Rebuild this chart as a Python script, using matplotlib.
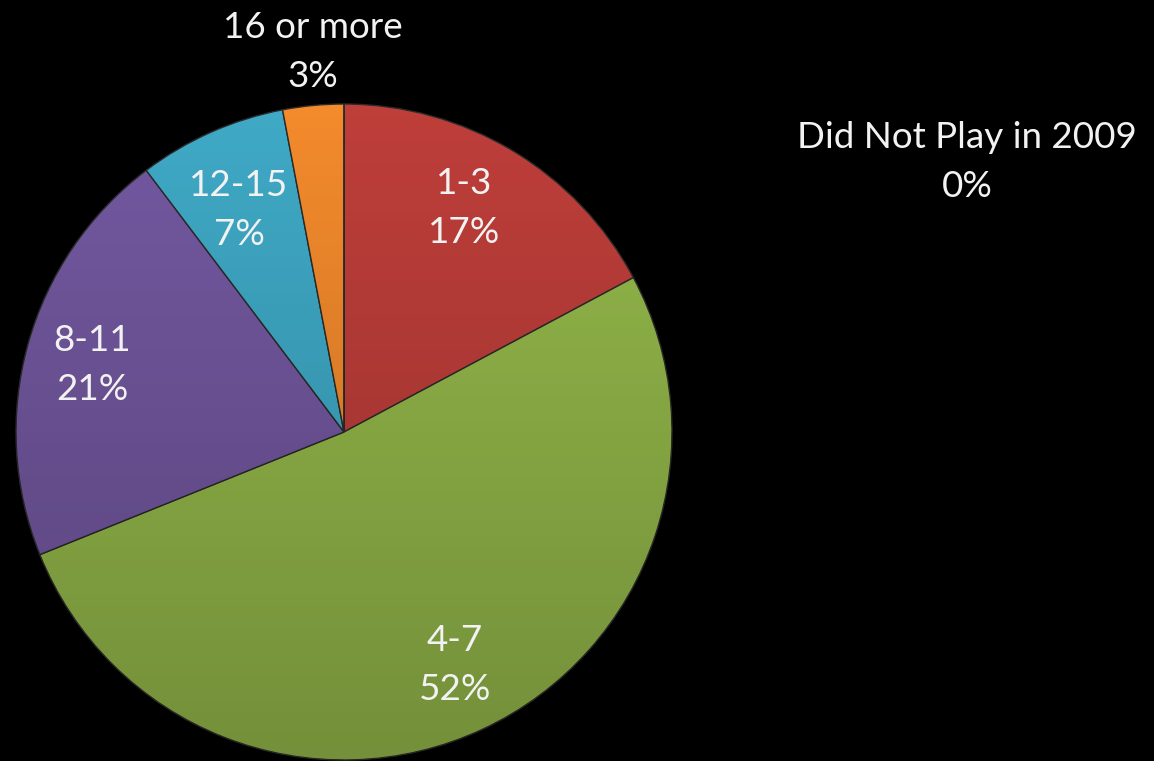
import matplotlib
matplotlib.use("Agg")
import matplotlib.pyplot as plt
import numpy as np
from matplotlib.patches import Circle

categories = ["1-3", "4-7", "8-11", "12-15", "16 or more", "Did Not Play in 2009"]
values = [17.2, 51.7, 20.8, 7.3, 3.0, 0.0]
pct_labels = ["17%", "52%", "21%", "7%", "3%", "0%"]
colors = ["#BE3E3A", "#94B84A", "#7358A0", "#3FA9C6", "#F38A2C", "#2C4D75"]

W, H = 1154, 761
fig = plt.figure(figsize=(W / 100, H / 100), dpi=100, facecolor="black")
ax = fig.add_axes([0, 0, 1, 1])
ax.set_facecolor("black")

cx, cy, r = 344, H - 432, 328
wedges, _ = ax.pie(values, colors=colors, startangle=90, counterclock=False,
                   center=(cx, cy), radius=r, frame=True,
                   wedgeprops=dict(edgecolor="#2a2a2a", linewidth=1.0))
ax.set_xlim(0, W)
ax.set_ylim(0, H)
ax.set_aspect("equal")
ax.axis("off")

# shading overlay (clear top, darker bottom)
shade = np.zeros((256, 1, 4))
shade[..., 3] = np.linspace(0.22, 0.0, 256).reshape(-1, 1)
im = ax.imshow(shade, extent=(cx - r, cx + r, cy - r, cy + r), origin="lower",
               aspect="auto", zorder=3, interpolation="bilinear")
im.set_clip_path(Circle((cx, cy), r, transform=ax.transData))

label_pos = [(464, 208), (455, 665), (92, 365), (239, 210), (313, 52), (967, 162)]
for cat, p, (x, y) in zip(categories, pct_labels, label_pos):
    ax.text(x, H - y, f"{cat}\n{p}", color="#F2F2F2", ha="center", va="center",
            fontsize=26.5, family=["Lato", "DejaVu Sans"], linespacing=1.6, zorder=5)

ax.set_xlim(0, W)
ax.set_ylim(0, H)
fig.savefig("out.png", dpi=100, facecolor="black")
